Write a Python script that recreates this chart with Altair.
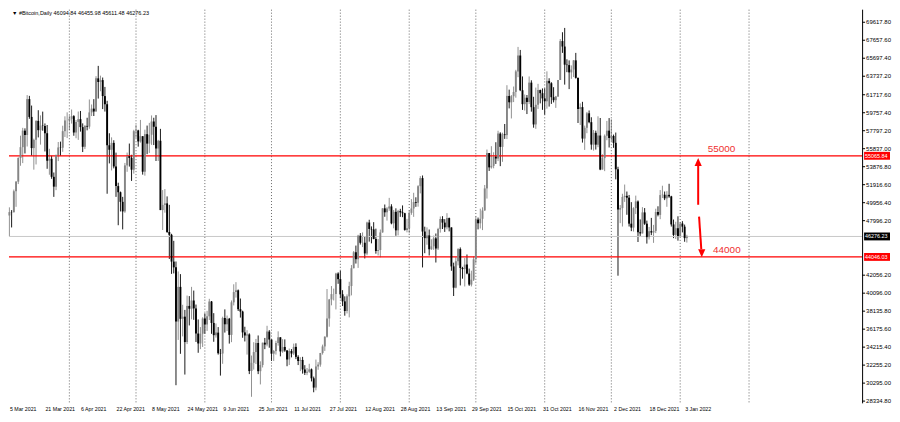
import altair as alt
import pandas as pd
import numpy as np

# ---------------- data (daily BTC candles, 5 Mar 2021 -> 4 Jan 2022) ----------------
FIRST_OPEN = 48561.0

close_mar = [48927, 48912, 51206, 52247, 54824, 56008, 57805, 57333, 61243, 59302,
             55907, 56804, 58870, 57858, 58346, 58313, 57523, 54530, 54739, 52774,
             51704, 55137, 55974, 55948, 57750, 58917, 58918]
high_mar = [49448, 49147, 51384, 52314, 54900, 57258, 58113, 58057, 61683, 61597,
            60541, 56938, 58951, 60031, 59469, 59880, 58591, 58421, 55830, 55074,
            53244, 55200, 56568, 56610, 58343, 59369, 59800]
low_mar = [46300, 47257, 48900, 49506, 51987, 53981, 54270, 55321, 56078, 59100,
           55084, 53555, 54124, 57069, 56283, 57800, 55538, 53650, 53001, 52558,
           50591, 51323, 54489, 55074, 55500, 57117, 57000]

close_apr = [59095, 59384, 57604, 58758, 59057, 58192, 56048, 58323, 58245, 59793,
             60204, 59893, 63503, 63109, 63314, 61572, 60683, 56216, 55724, 56473,
             53906, 51762, 51093, 50050, 49004, 54021, 55033, 54824, 53555, 57750]
high_apr = [59460, 60110, 59492, 58960, 59891, 59950, 58600, 58400, 59210, 61203,
            60656, 61239, 63743, 64864, 63800, 63594, 62572, 61057, 57520, 57076,
            56760, 55410, 52132, 51167, 50592, 54288, 55416, 56400, 55173, 57900]
low_apr = [57866, 58575, 57249, 56978, 56800, 57700, 55473, 55800, 57838, 58011,
           59400, 59400, 60000, 61301, 62100, 60155, 59885, 50931, 54236, 53470,
           53695, 50591, 47500, 49000, 47045, 48852, 53321, 53890, 52330, 53123]

close_may = [57828, 56631, 57200, 53333, 57424, 56396, 57356, 58803, 58232, 55859,
             56704, 49150, 49716, 49880, 46760, 46456, 43537, 42909, 37002, 40782,
             37304, 37536, 34770, 38705, 38403, 39294, 38437, 35697, 34617, 35678,
             37333]
high_may = [58448, 57900, 58973, 57013, 57911, 58360, 58650, 59464, 59210, 59500,
            56800, 58000, 51330, 51438, 50640, 49720, 46565, 45800, 43546, 42462,
            42172, 38829, 38271, 39835, 39776, 40782, 40379, 38856, 37234, 36400,
            37468]
low_may = [57000, 56062, 56500, 53013, 52900, 55241, 55382, 56257, 56235, 54500,
           54500, 49150, 46980, 48868, 46664, 43826, 42200, 42250, 30066, 35000,
           33489, 35383, 31227, 34551, 36581, 37247, 37190, 34779, 33600, 34000,
           34233]

close_jun = [36685, 37575, 39188, 36851, 35520, 35797, 33553, 33520, 37389, 36703,
             37313, 35551, 39098, 40218, 40407, 38348, 38093, 35820, 35484, 35600,
             31608, 32509, 33678, 34663, 31594, 32271, 34700, 34494, 35911, 35045]
high_jun = [37896, 38170, 39478, 39242, 37917, 36790, 36400, 34017, 37534, 38330,
            37656, 37400, 39300, 41064, 41295, 40497, 39513, 38187, 36437, 36059,
            35721, 33298, 34753, 35108, 35487, 32670, 34700, 35219, 36542, 36074]
low_jun = [35667, 35981, 37170, 35667, 34800, 35256, 33400, 31114, 32398, 35800,
           35968, 34600, 34757, 38760, 39611, 38155, 37433, 35236, 34833, 33400,
           31279, 28805, 31770, 32370, 31275, 30151, 32000, 33998, 34297, 34150]

close_jul = [33504, 33786, 34669, 35287, 33746, 34235, 33855, 32877, 33798, 33520,
             34240, 33155, 32702, 32822, 31781, 31421, 31533, 31796, 30817, 29807,
             32110, 32314, 33581, 34292, 35350, 37337, 39406, 39995, 40008, 42235,
             41626]
high_jul = [35035, 33908, 34910, 35937, 35288, 35079, 35059, 33900, 34062, 34000,
            34600, 34631, 33331, 33114, 33159, 32250, 31940, 32400, 31885, 31006,
            32858, 32576, 33581, 34490, 35398, 40545, 39467, 40873, 40593, 42316,
            42370]
low_jul = [32712, 32711, 33402, 34377, 33213, 33600, 33707, 32133, 32269, 33100,
           33355, 32907, 32262, 31600, 31330, 31179, 31165, 31410, 30479, 29296,
           29508, 31750, 32080, 33402, 33803, 35255, 36441, 38772, 39301, 38322,
           41114]

close_aug = [39974, 39201, 38152, 39747, 40870, 42816, 44555, 43798, 46365, 45585,
             45593, 44429, 47793, 47096, 47047, 46004, 44695, 44801, 46717, 49339,
             48905, 49321, 49546, 47706, 48960, 46942, 49058, 48897, 48806, 46991,
             47166]
high_aug = [42541, 40423, 39750, 39966, 41341, 43160, 44689, 45282, 46456, 46643,
            46716, 46217, 47884, 48098, 47372, 47831, 47127, 46000, 47033, 49342,
            49757, 49471, 50482, 49789, 49165, 49342, 49168, 49289, 49658, 48854,
            48195]
low_aug = [39540, 38691, 37642, 37886, 37458, 39854, 42800, 43321, 42848, 45393,
           45119, 43880, 44231, 45710, 45525, 45971, 44400, 44206, 43998, 46686,
           48421, 48002, 49071, 47600, 47163, 46347, 46392, 48410, 48379, 46904,
           46725]

close_sep = [48848, 49327, 50025, 49944, 51753, 52633, 46811, 46091, 46391, 44883,
             45201, 46063, 44963, 47092, 48177, 47783, 47267, 48278, 47261, 43012,
             40694, 43574, 44896, 42840, 42716, 43208, 42236, 41034, 41564, 43791]
high_sep = [49100, 50343, 51033, 50542, 51868, 52853, 52920, 47340, 47262, 47031,
            45969, 46364, 46598, 47218, 48450, 48486, 48163, 48813, 48333, 47261,
            43420, 44000, 45000, 45080, 42966, 43919, 44313, 42776, 42545, 44092]
low_sep = [46619, 48633, 48412, 49500, 49525, 50969, 42900, 44452, 45372, 44203,
           44817, 44819, 43436, 44799, 46694, 47088, 46773, 47045, 46829, 42537,
           39786, 40626, 43126, 40937, 41675, 40829, 42159, 40888, 40829, 41424]

close_oct = [48116, 47711, 48200, 49112, 51514, 55362, 53805, 53967, 54968, 54772,
             57485, 56041, 57401, 57321, 61593, 60892, 61553, 62026, 64262, 65993,
             62210, 60692, 61393, 60931, 63039, 60364, 58482, 60622, 62228, 61888,
             61318]
high_oct = [48436, 48334, 49299, 49456, 51886, 55750, 55300, 56113, 55450, 56545,
            57794, 57627, 57583, 58532, 62757, 62274, 61687, 62614, 64434, 66930,
            66600, 63715, 61743, 61690, 63711, 63293, 61496, 62499, 62907, 62274,
            62406]
low_oct = [43321, 47045, 47142, 46969, 49072, 50405, 53417, 53669, 53703, 54177,
           54488, 53937, 54409, 56908, 56890, 60231, 59134, 60921, 61400, 63632,
           62110, 60065, 59998, 59614, 60700, 59875, 58127, 58000, 60174, 60779,
           60074]

close_nov = [61004, 63227, 62970, 61452, 61125, 61528, 63327, 67566, 66971, 64995,
             64950, 64155, 64469, 65466, 63557, 60161, 60369, 56943, 58119, 59697,
             58730, 56289, 57569, 56280, 57274, 53569, 54815, 57248, 57806, 57005]
high_nov = [62420, 64270, 63516, 63086, 62541, 61590, 63327, 67790, 68530, 69000,
            65580, 65460, 64915, 65495, 66281, 63558, 60777, 60948, 58352, 59846,
            60004, 59266, 57875, 57804, 59367, 59185, 55232, 57393, 58865, 59176]
low_nov = [59542, 60200, 60429, 60721, 60882, 60286, 61474, 63327, 66281, 62822,
           64180, 62333, 63456, 63648, 63477, 58640, 58426, 56506, 55705, 57530,
           58611, 55734, 55630, 55745, 56003, 53500, 53560, 53394, 56762, 55970]

close_dec = [57229, 56477, 53598, 49201, 49368, 50582, 50700, 50504, 47672, 47243,
             49362, 50098, 46737, 46612, 48896, 47666, 46202, 46848, 46708, 46880,
             48936, 48628, 50784, 50822, 50429, 50809, 50640, 47588, 46444, 47178,
             46306]
high_dec = [59041, 57375, 57600, 53869, 49699, 50929, 51934, 51171, 50797, 50015,
            49459, 50724, 50205, 48134, 49472, 49370, 48000, 47313, 48298, 47537,
            49300, 49563, 51332, 51804, 51172, 51211, 52016, 50705, 48119, 47879,
            48473]
low_dec = [56659, 55934, 52498, 42000, 47727, 47358, 50040, 48638, 47358, 46852,
           46812, 48716, 45672, 46336, 46603, 47538, 45500, 45944, 46420, 45579,
           46643, 48467, 48159, 50463, 50236, 49508, 50488, 47354, 46095, 46004,
           45819]

close_jan = [47686, 47345, 46094.84, 46276.23]
high_jan = [47827, 47945, 47570, 46455.98]
low_jan = [46289, 46718, 45696, 45611.48]

# month separators (day index from 5 Mar 2021)
month_starts = [27, 57, 88, 118, 149, 180, 210, 241, 271, 302, 333]

# axis labels
date_labels = ["5 Mar 2021", "21 Mar 2021", "6 Apr 2021", "22 Apr 2021", "8 May 2021",
               "24 May 2021", "9 Jun 2021", "25 Jun 2021", "11 Jul 2021", "27 Jul 2021",
               "12 Aug 2021", "28 Aug 2021", "13 Sep 2021", "29 Sep 2021", "15 Oct 2021",
               "31 Oct 2021", "16 Nov 2021", "2 Dec 2021", "18 Dec 2021", "3 Jan 2022"]
date_label_days = [16 * i for i in range(len(date_labels))]
price_ticks = [69617.80, 67657.60, 65697.40, 63737.20, 61717.60, 59757.40, 57797.20,
               55837.00, 53876.80, 51916.60, 49956.40, 47996.20, 42056.20, 40096.00,
               38135.80, 36175.60, 34215.40, 32255.20, 30295.00, 28334.80]

# level lines and price tags
levels = [55065.84, 44046.03]
current_price = 46276.23
tag_prices = [55065.84, 46276.23, 44046.03]
tag_fills = ["#ff0000", "#000000", "#ff0000"]
title_text = "\u25BC #Bitcoin,Daily  46094.84 46455.98 45611.48 46276.23"

# ---------------- build ----------------
closes = (close_mar + close_apr + close_may + close_jun + close_jul + close_aug +
          close_sep + close_oct + close_nov + close_dec + close_jan)
highs = (high_mar + high_apr + high_may + high_jun + high_jul + high_aug +
         high_sep + high_oct + high_nov + high_dec + high_jan)
lows = (low_mar + low_apr + low_may + low_jun + low_jul + low_aug +
        low_sep + low_oct + low_nov + low_dec + low_jan)
opens = [FIRST_OPEN] + closes[:-1]

df = pd.DataFrame({"d": range(len(closes)), "open": opens, "high": highs,
                   "low": lows, "close": closes})
df["high"] = df[["high", "open", "close"]].max(axis=1)
df["low"] = df[["low", "open", "close"]].min(axis=1)
df["dir"] = np.where(df["close"] >= df["open"], "up", "down")

W, H = 856, 395
XDOM = [-0.18, 383.9]
YDOM = [28090, 70988]
FONT = "Liberation Sans"

label_arr = "[" + ",".join("'%s'" % s for s in date_labels) + "]"

xs = alt.Scale(domain=XDOM, nice=False, zero=False)
ys = alt.Scale(domain=YDOM, nice=False, zero=False)

x_axis = alt.Axis(values=date_label_days, labelExpr=label_arr + "[round(datum.value/16)]",
                  labelAlign="left", labelBaseline="top", labelPadding=3, ticks=False,
                  domain=False, labelFontSize=5.3, labelFont=FONT, labelColor="#000",
                  grid=False, labelOverlap=False, labelFlush=False, title=None)


def X(field, axis=False):
    if axis:
        return alt.X(field, scale=xs, axis=x_axis, title=None)
    return alt.X(field, scale=xs, title=None)


def Y(field):
    return alt.Y(field, scale=ys, axis=None, title=None)


color = alt.Color("dir:N", scale=alt.Scale(domain=["up", "down"], range=["#858585", "#000000"]),
                  legend=None)

base = alt.Chart(df)
wicks = base.mark_rule(strokeWidth=0.9).encode(
    x=X("d:Q", True), y=Y("low:Q"), y2="high:Q", color=color)
bodies = base.mark_rule(strokeWidth=1.9).encode(
    x=X("d:Q"), y=Y("open:Q"), y2="close:Q", color=color)

seps = alt.Chart(pd.DataFrame({"d": month_starts})).mark_rule(
    color="#444", strokeWidth=0.8, strokeDash=[1, 2]).encode(x=X("d:Q"))

cur_line = alt.Chart(pd.DataFrame({"p": [current_price]})).mark_rule(
    color="#c8c8c8", strokeWidth=1).encode(y=Y("p:Q"))
red_lines = alt.Chart(pd.DataFrame({"p": levels})).mark_rule(
    color="#ff0000", strokeWidth=1.3).encode(y=Y("p:Q"))

# right price scale (border, ticks, labels)
border = alt.Chart(pd.DataFrame({"k": [0]})).mark_rule(color="#000", strokeWidth=1).encode(
    x=alt.value(W + 0.5), y=alt.value(0), y2=alt.value(H))
ticks_df = pd.DataFrame({"p": price_ticks, "label": ["%.2f" % v for v in price_ticks]})
tick_marks = alt.Chart(ticks_df).mark_rule(color="#000", strokeWidth=1).encode(
    x=alt.value(W), x2=alt.value(W + 3), y=Y("p:Q"))
tick_labels = alt.Chart(ticks_df).mark_text(align="left", baseline="middle", fontSize=6,
                                            font=FONT, color="#000").encode(
    x=alt.value(W + 4), y=Y("p:Q"), text="label:N")

tags_df = pd.DataFrame({"p": tag_prices, "fill": tag_fills,
                        "label": ["%.2f" % v for v in tag_prices]})
tag_rects = alt.Chart(tags_df).transform_calculate(
    lo="datum.p - 430", hi="datum.p + 430").mark_rect().encode(
    x=alt.value(W + 2), x2=alt.value(W + 28),
    y=Y("lo:Q"), y2="hi:Q",
    color=alt.Color("fill:N", scale=None))
tag_text = alt.Chart(tags_df).mark_text(align="left", baseline="middle", fontSize=5.4,
                                        font=FONT, color="#ffffff").encode(
    x=alt.value(W + 3), y=Y("p:Q"), text="label:N")

title = alt.Chart(pd.DataFrame({"t": [title_text]})).mark_text(
    align="left", baseline="top", fontSize=5.5, font=FONT, color="#000").encode(
    x=alt.value(3), y=alt.value(1), text="t:N")

# annotations (red)
ann_txt = alt.Chart(pd.DataFrame({"d": [320.6, 323.0], "p": levels, "t": ["55000", "44000"]})).mark_text(
    align="center", baseline="bottom", dy=-2, fontSize=10, font=FONT, color="#f03030").encode(
    x=X("d:Q"), y=Y("p:Q"), text="t:N")

shafts = alt.Chart(pd.DataFrame({"x1": [310.1, 310.5], "y1": [49729, 48432],
                                 "x2": [310.1, 311.5], "y2": [54100, 44900]})).mark_rule(
    color="#ff0000", strokeWidth=2).encode(
    x=X("x1:Q"), y=Y("y1:Q"), x2="x2:Q", y2="y2:Q")
head_up = alt.Chart(pd.DataFrame({"d": [310.1], "p": [54830]})).mark_point(
    shape="M0,0L-0.9,2L0.9,2Z", size=64, filled=True, color="#ff0000", opacity=1,
    strokeWidth=0).encode(x=X("d:Q"), y=Y("p:Q"))
head_dn = alt.Chart(pd.DataFrame({"d": [311.7], "p": [44005]})).mark_point(
    shape="M0,0L-0.9,-2L0.9,-2Z", size=64, filled=True, color="#ff0000", opacity=1,
    strokeWidth=0).encode(x=X("d:Q"), y=Y("p:Q"))

chart = alt.layer(
    wicks, seps, cur_line, red_lines, bodies, border, tick_marks, tick_labels,
    tag_rects, tag_text, title, ann_txt, shafts, head_up, head_dn
).properties(width=W, height=H, background="#ffffff", padding=0).configure_view(
    stroke=None)

chart.save("out.html", embed_options={"renderer": "svg", "actions": False})
